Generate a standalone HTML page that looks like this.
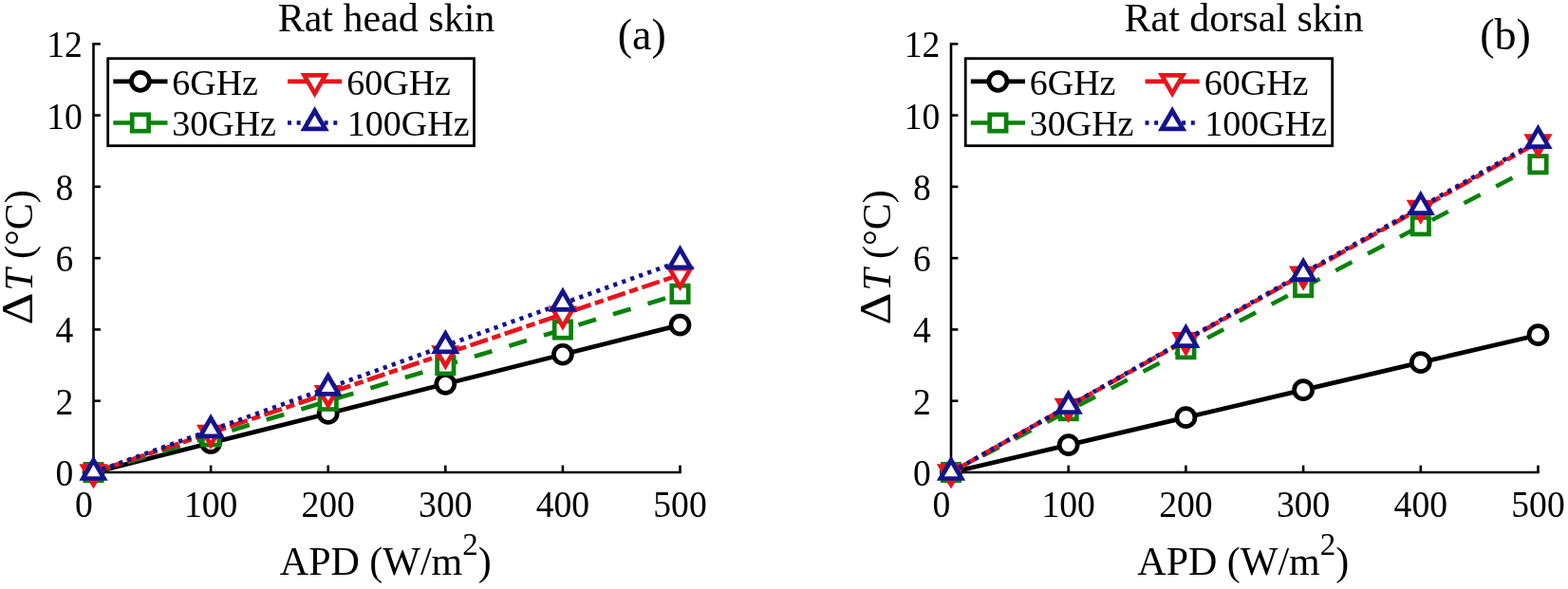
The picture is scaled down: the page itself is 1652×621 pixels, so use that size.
<!DOCTYPE html>
<html lang="en">
<head>
<meta charset="utf-8">
<title>Temperature rise versus APD</title>
<style>
html,body{margin:0;padding:0;background:#fff;}
body{width:1652px;height:621px;overflow:hidden;}
svg{display:block;}
svg text{font-family:"Liberation Serif","DejaVu Serif",serif;fill:#000;}
</style>
</head>
<body>
<svg width="1652" height="621" viewBox="0 0 1652 621">
<rect width="1652" height="621" fill="#fff"/>
<g>
<polyline points="98.50,45.00 98.50,498.00 717.80,498.00" fill="none" stroke="#000" stroke-width="2.6" stroke-linejoin="miter"/>
<line x1="98.50" y1="498.00" x2="98.50" y2="490.60" stroke="#000" stroke-width="2.6"/>
<text transform="translate(88.40,544.6) scale(0.99,1.045)" text-anchor="middle" font-size="38">0</text>
<line x1="222.10" y1="498.00" x2="222.10" y2="490.60" stroke="#000" stroke-width="2.6"/>
<text transform="translate(222.10,544.6) scale(0.99,1.045)" text-anchor="middle" font-size="38">100</text>
<line x1="345.70" y1="498.00" x2="345.70" y2="490.60" stroke="#000" stroke-width="2.6"/>
<text transform="translate(345.70,544.6) scale(0.99,1.045)" text-anchor="middle" font-size="38">200</text>
<line x1="469.30" y1="498.00" x2="469.30" y2="490.60" stroke="#000" stroke-width="2.6"/>
<text transform="translate(469.30,544.6) scale(0.99,1.045)" text-anchor="middle" font-size="38">300</text>
<line x1="592.90" y1="498.00" x2="592.90" y2="490.60" stroke="#000" stroke-width="2.6"/>
<text transform="translate(592.90,544.6) scale(0.99,1.045)" text-anchor="middle" font-size="38">400</text>
<line x1="716.50" y1="498.00" x2="716.50" y2="490.60" stroke="#000" stroke-width="2.6"/>
<text transform="translate(716.50,544.6) scale(0.99,1.045)" text-anchor="middle" font-size="38">500</text>
<line x1="98.50" y1="498.00" x2="105.90" y2="498.00" stroke="#000" stroke-width="2.6"/>
<text transform="translate(68,512.00) scale(0.99,1.045)" text-anchor="middle" font-size="38">0</text>
<line x1="98.50" y1="422.72" x2="105.90" y2="422.72" stroke="#000" stroke-width="2.6"/>
<text transform="translate(68,436.72) scale(0.99,1.045)" text-anchor="middle" font-size="38">2</text>
<line x1="98.50" y1="347.43" x2="105.90" y2="347.43" stroke="#000" stroke-width="2.6"/>
<text transform="translate(68,361.43) scale(0.99,1.045)" text-anchor="middle" font-size="38">4</text>
<line x1="98.50" y1="272.15" x2="105.90" y2="272.15" stroke="#000" stroke-width="2.6"/>
<text transform="translate(68,286.15) scale(0.99,1.045)" text-anchor="middle" font-size="38">6</text>
<line x1="98.50" y1="196.87" x2="105.90" y2="196.87" stroke="#000" stroke-width="2.6"/>
<text transform="translate(68,210.87) scale(0.99,1.045)" text-anchor="middle" font-size="38">8</text>
<line x1="98.50" y1="121.58" x2="105.90" y2="121.58" stroke="#000" stroke-width="2.6"/>
<text transform="translate(68,135.58) scale(0.99,1.045)" text-anchor="middle" font-size="38">10</text>
<line x1="98.50" y1="46.30" x2="105.90" y2="46.30" stroke="#000" stroke-width="2.6"/>
<text transform="translate(68,60.30) scale(0.99,1.045)" text-anchor="middle" font-size="38">12</text>
<text x="407" y="32.7" text-anchor="middle" font-size="42">Rat head skin</text>
<text x="676.2" y="52" text-anchor="middle" font-size="46">(a)</text>
<text x="406.3" y="606.3" text-anchor="middle" font-size="42">APD (W/m<tspan dy="-21" font-size="33">2</tspan><tspan dy="21">)</tspan></text>
<g transform="translate(34,0) rotate(-90)" font-size="42"><text transform="translate(-342.4,0) scale(1.26,1.1)">Δ</text><text x="-306.8" y="0"><tspan font-style="italic">T</tspan><tspan dx="0"> (°C)</tspan></text></g>
<polyline points="98.50,498.10 222.10,467.01 345.70,435.92 469.30,404.82 592.90,373.73 716.50,342.64" fill="none" stroke="#000000" stroke-width="4.7"/>
<circle cx="98.50" cy="498.10" r="9.5" fill="#fff" stroke="#000000" stroke-width="4.7"/>
<circle cx="222.10" cy="467.01" r="9.5" fill="#fff" stroke="#000000" stroke-width="4.7"/>
<circle cx="345.70" cy="435.92" r="9.5" fill="#fff" stroke="#000000" stroke-width="4.7"/>
<circle cx="469.30" cy="404.82" r="9.5" fill="#fff" stroke="#000000" stroke-width="4.7"/>
<circle cx="592.90" cy="373.73" r="9.5" fill="#fff" stroke="#000000" stroke-width="4.7"/>
<circle cx="716.50" cy="342.64" r="9.5" fill="#fff" stroke="#000000" stroke-width="4.7"/>
<polyline points="98.50,498.10 222.10,460.46 345.70,422.82 469.30,385.18 592.90,347.53 716.50,309.89" fill="none" stroke="#0a820a" stroke-width="4.7" stroke-dasharray="19.4 18.78" stroke-dashoffset="0.4"/>
<rect x="89.80" y="489.40" width="17.4" height="17.4" fill="#fff" stroke="#0a820a" stroke-width="4.7" stroke-linejoin="miter"/>
<rect x="213.40" y="451.76" width="17.4" height="17.4" fill="#fff" stroke="#0a820a" stroke-width="4.7" stroke-linejoin="miter"/>
<rect x="337.00" y="414.12" width="17.4" height="17.4" fill="#fff" stroke="#0a820a" stroke-width="4.7" stroke-linejoin="miter"/>
<rect x="460.60" y="376.48" width="17.4" height="17.4" fill="#fff" stroke="#0a820a" stroke-width="4.7" stroke-linejoin="miter"/>
<rect x="584.20" y="338.83" width="17.4" height="17.4" fill="#fff" stroke="#0a820a" stroke-width="4.7" stroke-linejoin="miter"/>
<rect x="707.80" y="301.19" width="17.4" height="17.4" fill="#fff" stroke="#0a820a" stroke-width="4.7" stroke-linejoin="miter"/>
<polyline points="98.50,498.10 222.10,456.39 345.70,414.69 469.30,372.98 592.90,331.27 716.50,289.57" fill="none" stroke="#e8141c" stroke-width="4.7" stroke-dasharray="19.5 4.6 9.5 4.58" stroke-dashoffset="1.0"/>
<polygon points="98.50,510.90 109.59,491.70 87.41,491.70" fill="#fff" stroke="#e8141c" stroke-width="4.7" stroke-linejoin="miter" stroke-miterlimit="10"/>
<polygon points="222.10,469.19 233.19,449.99 211.01,449.99" fill="#fff" stroke="#e8141c" stroke-width="4.7" stroke-linejoin="miter" stroke-miterlimit="10"/>
<polygon points="345.70,427.49 356.79,408.29 334.61,408.29" fill="#fff" stroke="#e8141c" stroke-width="4.7" stroke-linejoin="miter" stroke-miterlimit="10"/>
<polygon points="469.30,385.78 480.39,366.58 458.21,366.58" fill="#fff" stroke="#e8141c" stroke-width="4.7" stroke-linejoin="miter" stroke-miterlimit="10"/>
<polygon points="592.90,344.07 603.99,324.87 581.81,324.87" fill="#fff" stroke="#e8141c" stroke-width="4.7" stroke-linejoin="miter" stroke-miterlimit="10"/>
<polygon points="716.50,302.37 727.59,283.17 705.41,283.17" fill="#fff" stroke="#e8141c" stroke-width="4.7" stroke-linejoin="miter" stroke-miterlimit="10"/>
<polyline points="98.50,498.10 222.10,453.57 345.70,409.04 469.30,364.51 592.90,319.98 716.50,275.45" fill="none" stroke="#14148c" stroke-width="4.7" stroke-dasharray="4.2 5.345" stroke-dashoffset="0"/>
<polygon points="98.50,485.30 109.59,504.50 87.41,504.50" fill="#fff" stroke="#14148c" stroke-width="4.7" stroke-linejoin="miter" stroke-miterlimit="10"/>
<polygon points="222.10,440.77 233.19,459.97 211.01,459.97" fill="#fff" stroke="#14148c" stroke-width="4.7" stroke-linejoin="miter" stroke-miterlimit="10"/>
<polygon points="345.70,396.24 356.79,415.44 334.61,415.44" fill="#fff" stroke="#14148c" stroke-width="4.7" stroke-linejoin="miter" stroke-miterlimit="10"/>
<polygon points="469.30,351.71 480.39,370.91 458.21,370.91" fill="#fff" stroke="#14148c" stroke-width="4.7" stroke-linejoin="miter" stroke-miterlimit="10"/>
<polygon points="592.90,307.18 603.99,326.38 581.81,326.38" fill="#fff" stroke="#14148c" stroke-width="4.7" stroke-linejoin="miter" stroke-miterlimit="10"/>
<polygon points="716.50,262.65 727.59,281.85 705.41,281.85" fill="#fff" stroke="#14148c" stroke-width="4.7" stroke-linejoin="miter" stroke-miterlimit="10"/>
<rect x="113.7" y="61.7" width="385.8" height="92" fill="#fff" stroke="#000" stroke-width="2.8"/>
<line x1="119.3" y1="85.8" x2="176.5" y2="85.8" stroke="#000000" stroke-width="4.7"/>
<circle cx="147.90" cy="85.80" r="9.5" fill="#fff" stroke="#000000" stroke-width="4.7"/>
<text x="181.2" y="99.7" font-size="38">6GHz</text>
<line x1="119.3" y1="129.5" x2="176.5" y2="129.5" stroke="#0a820a" stroke-width="4.7"/>
<rect x="139.20" y="120.80" width="17.4" height="17.4" fill="#fff" stroke="#0a820a" stroke-width="4.7" stroke-linejoin="miter"/>
<text x="181.2" y="143.4" font-size="38">30GHz</text>
<line x1="303" y1="85.8" x2="360.2" y2="85.8" stroke="#e8141c" stroke-width="4.7"/>
<polygon points="331.60,98.60 342.69,79.40 320.51,79.40" fill="#fff" stroke="#e8141c" stroke-width="4.7" stroke-linejoin="miter" stroke-miterlimit="10"/>
<text x="365.2" y="99.7" font-size="38">60GHz</text>
<line x1="303" y1="129.5" x2="360.2" y2="129.5" stroke="#14148c" stroke-width="4.7" stroke-dasharray="4 5.66"/>
<polygon points="331.60,116.70 342.69,135.90 320.51,135.90" fill="#fff" stroke="#14148c" stroke-width="4.7" stroke-linejoin="miter" stroke-miterlimit="10"/>
<text x="365.8" y="143.4" font-size="38">100GHz</text>
</g>
<g transform="translate(903.5,0)">
<polyline points="98.50,45.00 98.50,498.00 718.30,498.00" fill="none" stroke="#000" stroke-width="2.6" stroke-linejoin="miter"/>
<line x1="98.50" y1="498.00" x2="98.50" y2="490.60" stroke="#000" stroke-width="2.6"/>
<text transform="translate(88.40,544.6) scale(0.99,1.045)" text-anchor="middle" font-size="38">0</text>
<line x1="222.20" y1="498.00" x2="222.20" y2="490.60" stroke="#000" stroke-width="2.6"/>
<text transform="translate(222.20,544.6) scale(0.99,1.045)" text-anchor="middle" font-size="38">100</text>
<line x1="345.90" y1="498.00" x2="345.90" y2="490.60" stroke="#000" stroke-width="2.6"/>
<text transform="translate(345.90,544.6) scale(0.99,1.045)" text-anchor="middle" font-size="38">200</text>
<line x1="469.60" y1="498.00" x2="469.60" y2="490.60" stroke="#000" stroke-width="2.6"/>
<text transform="translate(469.60,544.6) scale(0.99,1.045)" text-anchor="middle" font-size="38">300</text>
<line x1="593.30" y1="498.00" x2="593.30" y2="490.60" stroke="#000" stroke-width="2.6"/>
<text transform="translate(593.30,544.6) scale(0.99,1.045)" text-anchor="middle" font-size="38">400</text>
<line x1="717.00" y1="498.00" x2="717.00" y2="490.60" stroke="#000" stroke-width="2.6"/>
<text transform="translate(717.00,544.6) scale(0.99,1.045)" text-anchor="middle" font-size="38">500</text>
<line x1="98.50" y1="498.00" x2="105.90" y2="498.00" stroke="#000" stroke-width="2.6"/>
<text transform="translate(68,512.00) scale(0.99,1.045)" text-anchor="middle" font-size="38">0</text>
<line x1="98.50" y1="422.72" x2="105.90" y2="422.72" stroke="#000" stroke-width="2.6"/>
<text transform="translate(68,436.72) scale(0.99,1.045)" text-anchor="middle" font-size="38">2</text>
<line x1="98.50" y1="347.43" x2="105.90" y2="347.43" stroke="#000" stroke-width="2.6"/>
<text transform="translate(68,361.43) scale(0.99,1.045)" text-anchor="middle" font-size="38">4</text>
<line x1="98.50" y1="272.15" x2="105.90" y2="272.15" stroke="#000" stroke-width="2.6"/>
<text transform="translate(68,286.15) scale(0.99,1.045)" text-anchor="middle" font-size="38">6</text>
<line x1="98.50" y1="196.87" x2="105.90" y2="196.87" stroke="#000" stroke-width="2.6"/>
<text transform="translate(68,210.87) scale(0.99,1.045)" text-anchor="middle" font-size="38">8</text>
<line x1="98.50" y1="121.58" x2="105.90" y2="121.58" stroke="#000" stroke-width="2.6"/>
<text transform="translate(68,135.58) scale(0.99,1.045)" text-anchor="middle" font-size="38">10</text>
<line x1="98.50" y1="46.30" x2="105.90" y2="46.30" stroke="#000" stroke-width="2.6"/>
<text transform="translate(68,60.30) scale(0.99,1.045)" text-anchor="middle" font-size="38">12</text>
<text x="407" y="32.7" text-anchor="middle" font-size="42">Rat dorsal skin</text>
<text x="682.6" y="52" text-anchor="middle" font-size="46">(b)</text>
<text x="406.3" y="606.3" text-anchor="middle" font-size="42">APD (W/m<tspan dy="-21" font-size="33">2</tspan><tspan dy="21">)</tspan></text>
<g transform="translate(34,0) rotate(-90)" font-size="42"><text transform="translate(-342.4,0) scale(1.26,1.1)">Δ</text><text x="-306.8" y="0"><tspan font-style="italic">T</tspan><tspan dx="0"> (°C)</tspan></text></g>
<polyline points="98.50,498.10 222.20,469.12 345.90,440.13 469.60,411.15 593.30,382.16 717.00,353.18" fill="none" stroke="#000000" stroke-width="4.7"/>
<circle cx="98.50" cy="498.10" r="9.5" fill="#fff" stroke="#000000" stroke-width="4.7"/>
<circle cx="222.20" cy="469.12" r="9.5" fill="#fff" stroke="#000000" stroke-width="4.7"/>
<circle cx="345.90" cy="440.13" r="9.5" fill="#fff" stroke="#000000" stroke-width="4.7"/>
<circle cx="469.60" cy="411.15" r="9.5" fill="#fff" stroke="#000000" stroke-width="4.7"/>
<circle cx="593.30" cy="382.16" r="9.5" fill="#fff" stroke="#000000" stroke-width="4.7"/>
<circle cx="717.00" cy="353.18" r="9.5" fill="#fff" stroke="#000000" stroke-width="4.7"/>
<polyline points="98.50,498.10 222.20,433.13 345.90,368.16 469.60,303.19 593.30,238.22 717.00,173.25" fill="none" stroke="#0a820a" stroke-width="4.7" stroke-dasharray="19.4 18.78" stroke-dashoffset="0.4"/>
<rect x="89.80" y="489.40" width="17.4" height="17.4" fill="#fff" stroke="#0a820a" stroke-width="4.7" stroke-linejoin="miter"/>
<rect x="213.50" y="424.43" width="17.4" height="17.4" fill="#fff" stroke="#0a820a" stroke-width="4.7" stroke-linejoin="miter"/>
<rect x="337.20" y="359.46" width="17.4" height="17.4" fill="#fff" stroke="#0a820a" stroke-width="4.7" stroke-linejoin="miter"/>
<rect x="460.90" y="294.49" width="17.4" height="17.4" fill="#fff" stroke="#0a820a" stroke-width="4.7" stroke-linejoin="miter"/>
<rect x="584.60" y="229.52" width="17.4" height="17.4" fill="#fff" stroke="#0a820a" stroke-width="4.7" stroke-linejoin="miter"/>
<rect x="708.30" y="164.55" width="17.4" height="17.4" fill="#fff" stroke="#0a820a" stroke-width="4.7" stroke-linejoin="miter"/>
<polyline points="98.50,498.10 222.20,428.46 345.90,358.83 469.60,289.19 593.30,219.55 717.00,149.91" fill="none" stroke="#e8141c" stroke-width="4.7" stroke-dasharray="19.5 4.6 9.5 4.58" stroke-dashoffset="1.0"/>
<polygon points="98.50,510.90 109.59,491.70 87.41,491.70" fill="#fff" stroke="#e8141c" stroke-width="4.7" stroke-linejoin="miter" stroke-miterlimit="10"/>
<polygon points="222.20,441.26 233.29,422.06 211.11,422.06" fill="#fff" stroke="#e8141c" stroke-width="4.7" stroke-linejoin="miter" stroke-miterlimit="10"/>
<polygon points="345.90,371.63 356.99,352.43 334.81,352.43" fill="#fff" stroke="#e8141c" stroke-width="4.7" stroke-linejoin="miter" stroke-miterlimit="10"/>
<polygon points="469.60,301.99 480.69,282.79 458.51,282.79" fill="#fff" stroke="#e8141c" stroke-width="4.7" stroke-linejoin="miter" stroke-miterlimit="10"/>
<polygon points="593.30,232.35 604.39,213.15 582.21,213.15" fill="#fff" stroke="#e8141c" stroke-width="4.7" stroke-linejoin="miter" stroke-miterlimit="10"/>
<polygon points="717.00,162.71 728.09,143.51 705.91,143.51" fill="#fff" stroke="#e8141c" stroke-width="4.7" stroke-linejoin="miter" stroke-miterlimit="10"/>
<polyline points="98.50,498.10 222.20,428.12 345.90,358.15 469.60,288.17 593.30,218.20 717.00,148.22" fill="none" stroke="#14148c" stroke-width="4.7" stroke-dasharray="4.2 5.345" stroke-dashoffset="0"/>
<polygon points="98.50,485.30 109.59,504.50 87.41,504.50" fill="#fff" stroke="#14148c" stroke-width="4.7" stroke-linejoin="miter" stroke-miterlimit="10"/>
<polygon points="222.20,415.32 233.29,434.52 211.11,434.52" fill="#fff" stroke="#14148c" stroke-width="4.7" stroke-linejoin="miter" stroke-miterlimit="10"/>
<polygon points="345.90,345.35 356.99,364.55 334.81,364.55" fill="#fff" stroke="#14148c" stroke-width="4.7" stroke-linejoin="miter" stroke-miterlimit="10"/>
<polygon points="469.60,275.37 480.69,294.57 458.51,294.57" fill="#fff" stroke="#14148c" stroke-width="4.7" stroke-linejoin="miter" stroke-miterlimit="10"/>
<polygon points="593.30,205.40 604.39,224.60 582.21,224.60" fill="#fff" stroke="#14148c" stroke-width="4.7" stroke-linejoin="miter" stroke-miterlimit="10"/>
<polygon points="717.00,135.42 728.09,154.62 705.91,154.62" fill="#fff" stroke="#14148c" stroke-width="4.7" stroke-linejoin="miter" stroke-miterlimit="10"/>
<rect x="113.7" y="61.7" width="386.5" height="92" fill="#fff" stroke="#000" stroke-width="2.8"/>
<line x1="119.3" y1="85.8" x2="176.5" y2="85.8" stroke="#000000" stroke-width="4.7"/>
<circle cx="147.90" cy="85.80" r="9.5" fill="#fff" stroke="#000000" stroke-width="4.7"/>
<text x="181.2" y="99.7" font-size="38">6GHz</text>
<line x1="119.3" y1="129.5" x2="176.5" y2="129.5" stroke="#0a820a" stroke-width="4.7"/>
<rect x="139.20" y="120.80" width="17.4" height="17.4" fill="#fff" stroke="#0a820a" stroke-width="4.7" stroke-linejoin="miter"/>
<text x="181.2" y="143.4" font-size="38">30GHz</text>
<line x1="303" y1="85.8" x2="360.2" y2="85.8" stroke="#e8141c" stroke-width="4.7"/>
<polygon points="331.60,98.60 342.69,79.40 320.51,79.40" fill="#fff" stroke="#e8141c" stroke-width="4.7" stroke-linejoin="miter" stroke-miterlimit="10"/>
<text x="365.2" y="99.7" font-size="38">60GHz</text>
<line x1="303" y1="129.5" x2="360.2" y2="129.5" stroke="#14148c" stroke-width="4.7" stroke-dasharray="4 5.66"/>
<polygon points="331.60,116.70 342.69,135.90 320.51,135.90" fill="#fff" stroke="#14148c" stroke-width="4.7" stroke-linejoin="miter" stroke-miterlimit="10"/>
<text x="365.8" y="143.4" font-size="38">100GHz</text>
</g>
</svg>
</body>
</html>
